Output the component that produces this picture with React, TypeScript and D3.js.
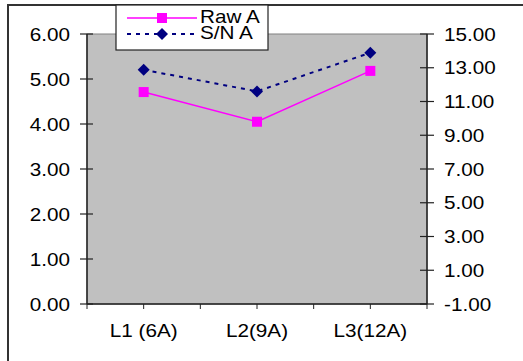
import React from "react";
import * as d3 from "d3";

const categories = ["L1 (6A)", "L2(9A)", "L3(12A)"];
const rawA = [4.71, 4.05, 5.18];
const snA = [12.88, 11.6, 13.89];
const leftTicks = [0, 1, 2, 3, 4, 5, 6];
const rightTicks = [-1, 1, 3, 5, 7, 9, 11, 13, 15];
const seriesNames = ["Raw A", "S/N A"];

const W = 523;
const H = 361;
const plot = { left: 87, top: 34, right: 427, bottom: 304 };
const FONT = "'Liberation Sans', Arial, sans-serif";
const FS = 18;
const SX = 1.15;

function T({ x, y, anchor, children }: { x: number; y: number; anchor: string; children: any }) {
  return (
    <text
      transform={`translate(${x},${y}) scale(${SX},1)`}
      textAnchor={anchor}
      fontFamily={FONT}
      fontSize={FS}
      fill="#000"
    >
      {children}
    </text>
  );
}

export default function App() {
  const x = d3.scaleBand<string>().domain(categories).range([plot.left, plot.right]).padding(0);
  const cx = (c: string) => (x(c) as number) + x.bandwidth() / 2;
  const yL = d3.scaleLinear().domain([0, 6]).range([plot.bottom, plot.top]);
  const yR = d3.scaleLinear().domain([-1, 15]).range([plot.bottom, plot.top]);

  const rawLine = d3
    .line<number>()
    .x((_, i) => cx(categories[i]))
    .y((d) => yL(d))(rawA) as string;
  const snLine = d3
    .line<number>()
    .x((_, i) => cx(categories[i]))
    .y((d) => yR(d))(snA) as string;

  const xTicks: number[] = [];
  categories.forEach((c) => {
    xTicks.push(x(c) as number);
    xTicks.push(cx(c));
  });
  xTicks.push(plot.right);

  const sq = 10;
  const dia = 6;
  const diamond = (px: number, py: number) =>
    `M${px},${py - dia}L${px + dia},${py}L${px},${py + dia}L${px - dia},${py}Z`;

  const lg = { x: 116, y: 5, w: 152, h: 45 };
  const lgLineX1 = 127;
  const lgLineX2 = 197;
  const lgMid = (lgLineX1 + lgLineX2) / 2;
  const lgY1 = 18;
  const lgY2 = 34;

  return (
    <svg
      width={W}
      height={H}
      style={{ position: "absolute", left: 0, top: 0, background: "#fff" }}
    >
      <rect x={0} y={0} width={W} height={H} fill="#fff" />
      {/* chart frame */}
      <rect x={8} y={5} width={600} height={400} fill="#fff" stroke="#333" strokeWidth={2} />
      {/* plot area */}
      <rect
        x={plot.left}
        y={plot.top}
        width={plot.right - plot.left}
        height={plot.bottom - plot.top}
        fill="#C0C0C0"
        stroke="#808080"
        strokeWidth={1}
      />
      {/* left axis */}
      <line x1={plot.left} y1={plot.top} x2={plot.left} y2={plot.bottom} stroke="#222" strokeWidth={1.5} />
      {leftTicks.map((t) => (
        <g key={"l" + t}>
          <line x1={plot.left - 7} x2={plot.left + 6} y1={yL(t)} y2={yL(t)} stroke="#222" strokeWidth={1.2} />
          <T x={70} y={yL(t) + 6.5} anchor="end">
            {t.toFixed(2)}
          </T>
        </g>
      ))}
      {/* right axis */}
      <line x1={plot.right} y1={plot.top} x2={plot.right} y2={plot.bottom} stroke="#222" strokeWidth={1.5} />
      {rightTicks.map((t) => (
        <g key={"r" + t}>
          <line x1={plot.right - 7} x2={plot.right + 7} y1={yR(t)} y2={yR(t)} stroke="#222" strokeWidth={1.2} />
          <T x={444} y={yR(t) + 6.5} anchor="start">
            {t.toFixed(2)}
          </T>
        </g>
      ))}
      {/* bottom axis */}
      <line x1={plot.left} y1={plot.bottom} x2={plot.right} y2={plot.bottom} stroke="#222" strokeWidth={1.5} />
      {xTicks.map((t, i) => (
        <line key={"x" + i} x1={t} x2={t} y1={plot.bottom} y2={plot.bottom + 5} stroke="#222" strokeWidth={1} />
      ))}
      {categories.map((c) => (
        <T key={c} x={cx(c)} y={337} anchor="middle">
          {c}
        </T>
      ))}
      {/* series */}
      <path d={rawLine} fill="none" stroke="#FF00FF" strokeWidth={1.5} />
      <path d={snLine} fill="none" stroke="#000080" strokeWidth={2} strokeDasharray="4,5" />
      {rawA.map((v, i) => (
        <rect
          key={"ra" + i}
          x={cx(categories[i]) - sq / 2}
          y={yL(v) - sq / 2}
          width={sq}
          height={sq}
          fill="#FF00FF"
        />
      ))}
      {snA.map((v, i) => (
        <path key={"sn" + i} d={diamond(cx(categories[i]), yR(v))} fill="#000080" />
      ))}
      {/* legend */}
      <rect x={lg.x} y={lg.y} width={lg.w} height={lg.h} fill="#fff" stroke="#222" strokeWidth={1.2} />
      <line x1={lgLineX1} x2={lgLineX2} y1={lgY1} y2={lgY1} stroke="#FF00FF" strokeWidth={1.5} />
      <rect x={lgMid - sq / 2} y={lgY1 - sq / 2} width={sq} height={sq} fill="#FF00FF" />
      <line x1={lgLineX1} x2={lgLineX2} y1={lgY2} y2={lgY2} stroke="#000080" strokeWidth={2} strokeDasharray="4,5" />
      <path d={diamond(lgMid, lgY2)} fill="#000080" />
      <T x={200} y={23} anchor="start">
        {seriesNames[0]}
      </T>
      <T x={200} y={39} anchor="start">
        {seriesNames[1]}
      </T>
    </svg>
  );
}
